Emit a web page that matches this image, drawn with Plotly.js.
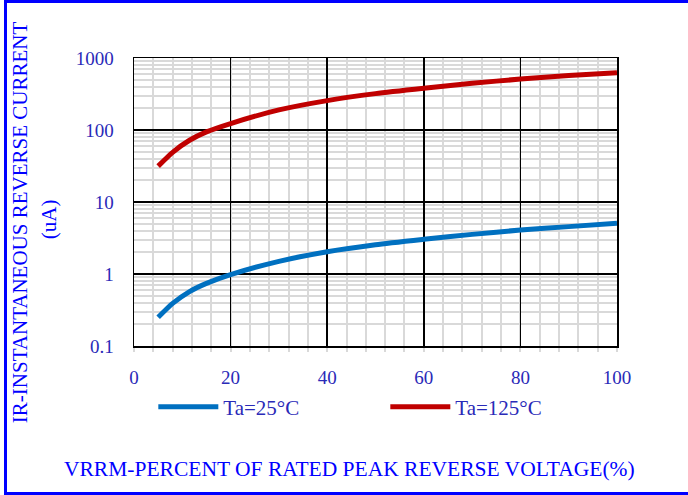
<!DOCTYPE html>
<html>
<head>
<meta charset="utf-8">
<script src="https://cdn.plot.ly/plotly-3.0.1.min.js"></script>
<style>
html,body{margin:0;padding:0;background:#fff;}
#wrap{position:relative;width:688px;height:495px;overflow:hidden;}
#chart{position:absolute;left:0;top:0;width:688px;height:495px;}
#frame{position:absolute;left:4px;top:0;width:690px;height:495px;border-left:3px solid #0000ff;border-top:3px solid #0000ff;border-bottom:3px solid #0000ff;box-sizing:border-box;pointer-events:none;}
</style>
</head>
<body>
<div id="wrap"><div id="chart"></div><div id="frame"></div></div>
<script>
const voltagePct = [5, 8, 11.5, 15, 20, 30, 40, 50, 60, 70, 80, 90, 100];
const current25 = [0.25, 0.39, 0.57, 0.74, 0.98, 1.5, 2.04, 2.55, 3.03, 3.55, 4.08, 4.55, 5.06];
const current125 = [31.5, 49, 72, 94, 123, 190, 256, 320, 380, 445, 510, 570, 625];
const seriesNames = ['Ta=25°C', 'Ta=125°C'];
const xTicks = [0, 20, 40, 60, 80, 100];
const yTickVals = [0.1, 1, 10, 100, 1000];
const yTickText = ['0.1', '1', '10', '100', '1000'];

const tickColor = '#2a2ab8';
const titleColor = '#0000ff';
const fontFam = '"Liberation Serif", "Times New Roman", serif';

const traces = [
  {x: voltagePct, y: current25, name: seriesNames[0], mode: 'lines',
   line: {color: '#0070c0', width: 5, shape: 'spline', smoothing: 0.6}},
  {x: voltagePct, y: current125, name: seriesNames[1], mode: 'lines',
   line: {color: '#c00000', width: 5, shape: 'spline', smoothing: 0.6}}
];

const layout = {
  width: 688, height: 495,
  margin: {l: 134, r: 71, t: 58, b: 149},
  paper_bgcolor: '#ffffff', plot_bgcolor: '#ffffff',
  font: {family: fontFam, size: 19, color: tickColor},
  showlegend: true,
  legend: {orientation: 'h', x: 0.04, xanchor: 'left', y: -0.212, yanchor: 'middle',
           font: {family: fontFam, size: 21, color: tickColor},
           itemwidth: 60,
           entrywidth: 157, entrywidthmode: 'pixels', bgcolor: 'rgba(0,0,0,0)'},
  xaxis: {
    range: [0, 100], tickvals: xTicks, ticktext: xTicks.map(String),
    showgrid: true, gridcolor: '#000000', gridwidth: 1.5,
    showline: true, linecolor: '#000000', linewidth: 1.5, mirror: true,
    zeroline: false, ticks: '', ticklabelstandoff: 14,
    tickfont: {family: fontFam, size: 19, color: tickColor},
    minor: {dtick: 4, showgrid: true, gridcolor: '#d9d9d9', gridwidth: 2,
            ticks: 'outside', ticklen: 4, tickcolor: '#d9d9d9', tickwidth: 2}
  },
  yaxis: {
    type: 'log', range: [-1, 3], tickvals: yTickVals, ticktext: yTickText,
    showgrid: true, gridcolor: '#000000', gridwidth: 1.5,
    showline: true, linecolor: '#000000', linewidth: 1.5, mirror: true,
    zeroline: false, ticks: '', ticklabelstandoff: 15,
    tickfont: {family: fontFam, size: 19, color: tickColor},
    minor: {dtick: 'D1', showgrid: true, gridcolor: '#d9d9d9', gridwidth: 2}
  },
  annotations: [
    {text: 'IR-INSTANTANEOUS REVERSE CURRENT', xref: 'paper', yref: 'paper',
     x: -0.236, y: 0.43, xanchor: 'center', yanchor: 'middle', textangle: -90,
     showarrow: false, font: {family: fontFam, size: 21, color: titleColor}},
    {text: '(uA)', xref: 'paper', yref: 'paper',
     x: -0.176, y: 0.44, xanchor: 'center', yanchor: 'middle', textangle: -90,
     showarrow: false, font: {family: fontFam, size: 21, color: titleColor}},
    {text: 'VRRM-PERCENT OF RATED PEAK REVERSE VOLTAGE(%)', xref: 'paper', yref: 'paper',
     x: 0.447, y: -0.428, xanchor: 'center', yanchor: 'middle',
     showarrow: false, font: {family: fontFam, size: 21.5, color: titleColor}}
  ]
};

Plotly.newPlot('chart', traces, layout, {displayModeBar: false, staticPlot: true});
</script>
</body>
</html>
